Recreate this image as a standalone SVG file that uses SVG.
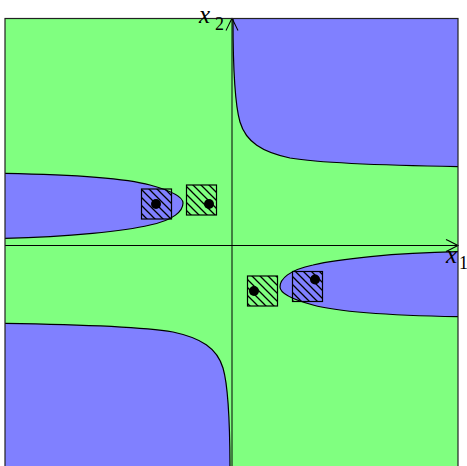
<svg xmlns="http://www.w3.org/2000/svg" width="467" height="466" viewBox="0 0 467 466">
<style>
.green{fill:#80ff80}
.blue{fill:#8080ff;stroke:#000;stroke-width:1.2}
.axis{stroke:#000;stroke-width:1;fill:none}
.frame{fill:none;stroke:#222;stroke-width:1.2}
.box{stroke:#000;stroke-width:1.2;fill:url(#hatch)}
.dot{fill:#000}
.lbl{font-family:"Liberation Serif",serif;font-style:italic;fill:#000}
.sub{font-family:"Liberation Serif",serif;fill:#000}
</style>
<defs>
<clipPath id="clip"><rect x="5" y="18.5" width="453" height="453"/></clipPath>
<pattern id="hatch" patternUnits="userSpaceOnUse" width="8" height="8">
<path d="M0,0 L8,8 M-1,7 L1,9 M7,-1 L9,1" stroke="#000" stroke-width="1.3"/>
</pattern>
<marker id="arr" markerUnits="userSpaceOnUse" orient="auto" refX="0" refY="0" markerWidth="20" markerHeight="20" overflow="visible">
<path d="M-12,-6 C-7,-3.5 -2.5,-1.5 0,0 C-2.5,1.5 -7,3.5 -12,6" fill="none" stroke="#000" stroke-width="1.1"/>
</marker>
</defs>
<g id="regions" clip-path="url(#clip)">
<rect class="green" x="5" y="18.5" width="453" height="453"/>
<path id="topright" class="blue" d="M233,10 L233,18.5 C233,70 235,105 240,122 C246,142 262,152 290,158 C320,163 380,165.5 470,166.7 L470,10 Z"/>
<path id="bottomleft" class="blue" transform="rotate(180 231.5 245)" d="M233,10 L233,18.5 C233,70 235,105 240,122 C246,142 262,152 290,158 C320,163 380,165.5 470,166.7 L470,10 Z"/>
<path id="leftlobe" class="blue" d="M-5,173.2 L5,173.3 C70,174.5 125,178 150,185 C172,191 183,197 183,203 C183,211 174,220 150,225 C125,231 70,237 5,238.3 L-5,238.4 Z"/>
<path id="rightlobe" class="blue" transform="rotate(180 231.5 245)" d="M-5,173.2 L5,173.3 C70,174.5 125,178 150,185 C172,191 183,197 183,203 C183,211 174,220 150,225 C125,231 70,237 5,238.3 L-5,238.4 Z"/>
</g>
<g id="connectors">
<line class="axis" x1="232" y1="475" x2="232" y2="18.5" marker-end="url(#arr)"/>
<line class="axis" x1="5" y1="245.5" x2="458" y2="245.5" marker-end="url(#arr)"/>
</g>
<rect class="frame" x="5" y="18.5" width="453" height="453"/>
<g id="box1"><rect class="box" x="141.5" y="189" width="30" height="30"/><circle class="dot" cx="156" cy="204" r="5"/></g>
<g id="box2"><rect class="box" x="186.5" y="185" width="30" height="30"/><circle class="dot" cx="209" cy="204" r="5"/></g>
<g id="box3"><rect class="box" x="247.5" y="276" width="30" height="30"/><circle class="dot" cx="254" cy="291" r="5"/></g>
<g id="box4"><rect class="box" x="292.5" y="271.5" width="30" height="30"/><circle class="dot" cx="315" cy="279.5" r="5"/></g>
<g id="label-x2"><text class="lbl" x="199" y="22.5" font-size="25">x</text><text class="sub" x="215" y="30" font-size="18">2</text></g>
<g id="label-x1"><text class="lbl" x="446" y="263" font-size="25">x</text><text class="sub" x="459" y="269" font-size="18">1</text></g>
</svg>
